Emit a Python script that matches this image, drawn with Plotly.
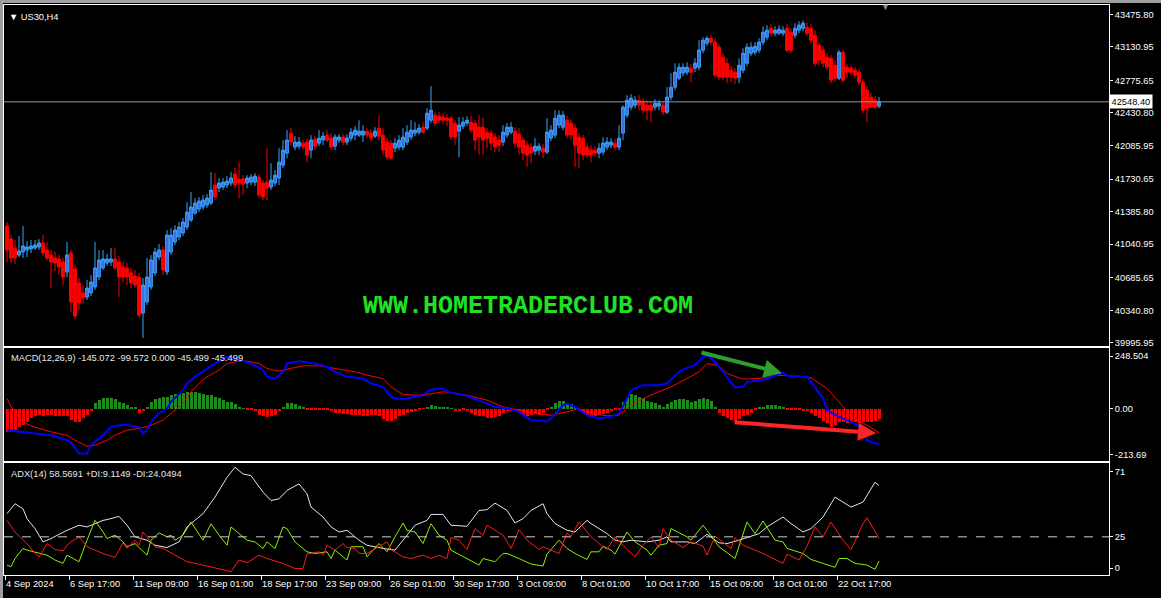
"""US30 H4 - candles, MACD and ADX in MT4 style."""

import plotly.graph_objects as go

# ---- price candles (one entry per H4 bar) ----
opens = [
    41233, 41095, 41000, 40926, 40958, 40979, 40990, 41000, 41011, 41053,
    40979, 40926, 40894, 40884, 40852, 40746, 40947, 40778, 40630, 40524,
    40482, 40524, 40588, 40693, 40789, 40841, 40852, 40884, 40852, 40799,
    40789, 40736, 40704, 40693, 40312, 40429, 40588, 40736, 40905, 40979,
    40746, 40958, 41064, 41117, 41159, 41222, 41296, 41370, 41413, 41434,
    41455, 41476, 41667, 41635, 41646, 41667, 41688, 41783, 41730, 41730,
    41688, 41698, 41698, 41751, 41688, 41698, 41646, 41688, 41741, 41878,
    42005, 42217, 42069, 42079, 42111, 42122, 42037, 42153, 42111, 42143,
    42196, 42164, 42079, 42143, 42175, 42122, 42164, 42196, 42196, 42196,
    42238, 42217, 42185, 42270, 42196, 42122, 42111, 42058, 42069, 42069,
    42122, 42175, 42217, 42227, 42280, 42270, 42354, 42407, 42397, 42386,
    42376, 42376, 42323, 42238, 42291, 42323, 42333, 42323, 42280, 42280,
    42227, 42217, 42175, 42143, 42122, 42196, 42227, 42238, 42206, 42143,
    42090, 42069, 42026, 42037, 42058, 42016, 42164, 42196, 42302, 42280,
    42354, 42323, 42270, 42175, 42164, 42069, 42037, 42037, 42005, 42016,
    42069, 42090, 42111, 42069, 42217, 42407, 42492, 42513, 42566, 42545,
    42513, 42513, 42492, 42503, 42513, 42439, 42598, 42704, 42799, 42852,
    42862, 42905, 42905, 42915, 43095, 43169, 43222, 43180, 43127, 43021,
    42957, 42883, 42862, 42809, 42883, 42957, 43063, 43074, 43095, 43180,
    43233, 43328, 43275, 43275, 43275, 43328, 43285, 43254, 43307, 43328,
    43338, 43328, 43254, 43148, 43095, 43021, 43010, 42936, 42799, 43074,
    42915, 42905, 42883, 42862, 42756, 42672, 42598, 42566, 42503,
]
highs = [
    41275, 41138, 41085, 41127, 41233, 41074, 41085, 41085, 41095, 41138,
    41064, 40979, 40958, 40926, 40894, 41064, 40979, 40820, 40683, 40609,
    40662, 40714, 41064, 40979, 40979, 40937, 41000, 41000, 40916, 40852,
    40841, 40789, 40767, 40736, 40683, 40894, 40926, 41000, 41043, 41021,
    41191, 41212, 41243, 41275, 41318, 41487, 41593, 41529, 41540, 41561,
    41571, 41804, 41794, 41741, 41741, 41762, 41804, 41847, 41910, 41772,
    41772, 41783, 41794, 41783, 41720, 42058, 41899, 41825, 42058, 42143,
    42249, 42270, 42185, 42175, 42143, 42164, 42196, 42185, 42249, 42227,
    42249, 42217, 42206, 42206, 42206, 42206, 42270, 42291, 42354, 42302,
    42270, 42259, 42280, 42407, 42270, 42164, 42143, 42164, 42196, 42270,
    42302, 42354, 42333, 42312, 42333, 42481, 42714, 42439, 42439, 42428,
    42418, 42397, 42354, 42386, 42386, 42397, 42397, 42354, 42407, 42386,
    42270, 42249, 42217, 42196, 42302, 42323, 42333, 42280, 42270, 42175,
    42132, 42111, 42164, 42111, 42101, 42376, 42302, 42460, 42460, 42450,
    42397, 42365, 42312, 42217, 42196, 42111, 42090, 42079, 42111, 42175,
    42175, 42164, 42153, 42302, 42513, 42619, 42630, 42608, 42619, 42587,
    42566, 42555, 42577, 42566, 42555, 42704, 42852, 42957, 42957, 42957,
    42968, 42947, 43010, 43201, 43233, 43243, 43254, 43222, 43158, 43063,
    43010, 42926, 42905, 43010, 43116, 43169, 43180, 43180, 43222, 43349,
    43360, 43370, 43349, 43360, 43349, 43370, 43328, 43381, 43402, 43412,
    43391, 43370, 43307, 43180, 43137, 43063, 43042, 42989, 43095, 43095,
    42947, 42936, 42915, 42894, 42788, 42714, 42640, 42608, 42598,
]
lows = [
    40852, 40841, 40831, 40905, 40894, 40905, 40947, 40979, 40979, 40916,
    40873, 40577, 40757, 40714, 40609, 40693, 40323, 40249, 40344, 40408,
    40450, 40492, 40556, 40662, 40767, 40810, 40810, 40767, 40482, 40640,
    40609, 40577, 40577, 40260, 40048, 40397, 40556, 40704, 40873, 40714,
    40714, 40926, 41032, 41085, 41127, 41191, 41275, 41349, 41381, 41402,
    41423, 41455, 41508, 41593, 41614, 41635, 41656, 41635, 41529, 41561,
    41635, 41667, 41656, 41529, 41508, 41508, 41614, 41656, 41667, 41847,
    41952, 42079, 42037, 42048, 42048, 41910, 41952, 42037, 42079, 42090,
    42122, 42037, 42037, 42111, 42090, 42090, 42132, 42143, 42175, 42122,
    42164, 42132, 42164, 42143, 41984, 41931, 41931, 42016, 42037, 42037,
    42090, 42143, 42185, 42196, 42206, 42249, 42323, 42291, 42323, 42312,
    42291, 42143, 42090, 41963, 42259, 42291, 42217, 42037, 41984, 41984,
    42058, 42037, 42016, 42016, 42079, 42164, 42206, 42058, 41984, 41931,
    41857, 41899, 41984, 41984, 41952, 41995, 42132, 42164, 42270, 42249,
    42164, 42143, 41857, 41847, 41931, 41952, 41910, 41974, 41952, 41984,
    42037, 42058, 42037, 42037, 42143, 42376, 42460, 42481, 42460, 42428,
    42354, 42333, 42460, 42460, 42407, 42418, 42566, 42672, 42778, 42820,
    42831, 42756, 42862, 42883, 43063, 43137, 43148, 42799, 42778, 42778,
    42746, 42756, 42735, 42746, 42852, 42926, 43032, 43042, 43063, 43148,
    43201, 43243, 43243, 43254, 43243, 43074, 43063, 43222, 43275, 43296,
    43243, 43169, 42926, 42936, 42915, 42883, 42746, 42756, 42778, 42756,
    42799, 42831, 42799, 42725, 42428, 42333, 42481, 42471, 42481,
]
closes = [
    40979, 40894, 40894, 40968, 41021, 41011, 41021, 41032, 41053, 40947,
    40894, 40852, 40841, 40799, 40693, 40926, 40429, 40281, 40418, 40471,
    40577, 40640, 40789, 40873, 40884, 40884, 40884, 40789, 40693, 40693,
    40693, 40630, 40609, 40291, 40609, 40693, 40873, 40958, 40979, 40767,
    41138, 41138, 41191, 41222, 41275, 41381, 41434, 41476, 41497, 41508,
    41529, 41614, 41540, 41688, 41698, 41709, 41741, 41667, 41688, 41677,
    41741, 41751, 41762, 41561, 41540, 41635, 41720, 41772, 41910, 42037,
    42143, 42122, 42122, 42122, 42069, 41984, 42143, 42079, 42164, 42185,
    42143, 42069, 42175, 42175, 42122, 42164, 42227, 42249, 42238, 42238,
    42196, 42164, 42238, 42185, 42037, 41963, 41952, 42111, 42143, 42175,
    42227, 42249, 42249, 42270, 42227, 42428, 42460, 42323, 42354, 42354,
    42354, 42175, 42175, 42302, 42333, 42354, 42249, 42143, 42175, 42143,
    42164, 42111, 42069, 42090, 42227, 42280, 42280, 42111, 42069, 42005,
    41984, 42005, 42079, 42079, 42016, 42227, 42249, 42376, 42407, 42407,
    42196, 42196, 42090, 42005, 41984, 41984, 41984, 42005, 42058, 42111,
    42122, 42122, 42069, 42164, 42492, 42566, 42587, 42566, 42513, 42460,
    42460, 42460, 42534, 42534, 42439, 42598, 42704, 42862, 42915, 42915,
    42915, 42862, 42957, 43095, 43201, 43222, 43180, 42831, 42809, 42809,
    42809, 42809, 42799, 42936, 43063, 43127, 43127, 43137, 43180, 43285,
    43307, 43275, 43307, 43317, 43307, 43095, 43095, 43328, 43360, 43381,
    43275, 43201, 42957, 42989, 42957, 42915, 42778, 42799, 43074, 42778,
    42862, 42862, 42831, 42756, 42460, 42481, 42492, 42492, 42548.4,
]

# ---- MACD(12,26,9) ----
macd_hist = [
    -96, -96, -89, -75, -68, -54, -40, -33, -26, -29, -26, -26, -29, -29, -33, -29,
    -47, -57, -54, -40, -26, -12,
    22, 36, 43, 43, 46, 39, 29, 22, 15, 8, 4,
    -19, -12,
    8, 29, 40, 46, 47, 50, 57, 60, 61, 64, 67, 68, 67, 64, 60, 57, 57, 50, 43, 36,
    29, 26, 18, 8, 1,
    -5, -8, -12, -26, -33, -36, -33, -26, -12,
    8, 22, 22, 18, 12, 4,
    -5, -5, -5, -5, -5, -5, -12, -17, -19, -22, -24, -26, -26, -26, -29, -29,
    -26, -26, -33, -43, -51, -51, -43, -33, -26, -19, -15, -10, -5, -1,
    8, 15, 12, 8, 8, 4, 1,
    -11, -12, -8, -12, -19, -26, -29, -33, -40, -40, -37, -29, -19, -12, -12, -12,
    -19, -26, -29, -26, -22, -26, -19, -8,
    4, 22, 32, 32, 22, 18, 8,
    -12, -19, -26, -29, -29, -26, -22, -19, -12, -7, -5,
    29, 50, 60, 57, 50, 43, 32, 26, 22, 15, 8, 18, 29, 36, 39, 40, 36, 29, 32, 40,
    43, 40, 32, 4,
    -19, -33, -40, -47, -51, -43, -33, -26, -19, -8,
    3, 8, 15, 15, 15, 11, 8,
    -8, -8, -7, -8, -12, -12, -19, -29, -40, -51, -61, -75, -68, -54, -57, -61,
    -57, -54, -61, -57, -54, -57, -51, -45.5,
]
macd_bars = [
    0, 3, 7, 11, 15, 16, 18, 20, 21, 24, 26, 29, 32, 33, 34, 35, 36, 38, 40, 41,
    44, 45, 47, 50, 52, 55, 57, 59, 61, 64, 65, 67, 69, 70, 73, 77, 80, 82, 85, 89,
    91, 94, 96, 98, 100, 104, 106, 109, 111, 115, 119, 122, 125, 128, 131, 135, 136, 139, 140, 142,
    145, 148, 151, 153, 155, 156, 159, 163, 165, 168, 170, 172, 174, 175, 177, 180, 182, 184, 185, 189,
    191, 194, 195, 200, 201, 204, 205, 208, 211, 214, 215, 217, 218,
]
macd_main = [
    -88.8, -95.7, -102.6, -109.6, -130.4, -140.0, -185.9, -185.9, -151.2, -109.6,
    -74.9, -65.1, -70.7, -74.9, -102.6, -88.8, -54.0, -19.3, 1.5, 29.2,
    77.8, 105.6, 133.3, 168.0, 188.9, 216.6, 209.7, 198.6, 188.9, 161.1,
    133.3, 126.4, 154.2, 188.9, 198.6, 188.9, 175.0, 154.2, 133.3, 126.4,
    105.6, 91.7, 50.1, 39.0, 43.1, 57.0, 80.6, 84.8, 67.0, 54.2,
    29.2, 8.4, 1.5, -12.4, -47.1, -51.3, -40.2, 15.4, 22.3, 8.4,
    -26.3, -40.2, -33.2, -19.3, 43.1, 77.8, 98.6, 98.6, 105.6, 154.2,
    170.8, 181.9, 216.6, 223.6, 195.8, 133.3, 88.9, 91.7, 112.5, 119.5,
    133.3, 151.4, 137.5, 133.3, 112.5, 43.1, -5.5, -33.2, -54.0, -81.8,
    -130.4, -144.3, -145.072,
]
signal_bars = [
    0, 1, 4, 6, 11, 15, 17, 20, 22, 25, 27, 30, 33, 36, 39, 41, 44, 46, 48, 50,
    53, 55, 58, 60, 63, 65, 68, 70, 74, 78, 82, 87, 90, 94, 96, 99, 102, 105, 109, 111,
    115, 120, 124, 128, 132, 136, 140, 143, 146, 150, 153, 156, 160, 163, 166, 170, 173, 175, 178, 180,
    184, 188, 192, 195, 199, 201, 205, 208, 211, 215, 218,
]
macd_signal = [
    43.1, 8.4, -54.0, -70.7, -95.7, -109.6, -130.4, -156.0, -151.2, -130.4,
    -109.6, -88.8, -81.8, -67.9, -47.1, -19.3, 22.3, 70.9, 105.6, 133.3,
    161.1, 188.9, 198.6, 198.6, 188.9, 168.0, 156.9, 165.3, 179.1, 179.1,
    168.0, 154.2, 140.3, 126.4, 91.7, 59.8, 57.0, 59.8, 70.9, 68.0,
    57.0, 36.2, 8.4, -5.5, -19.3, -26.3, -12.4, 1.5, -19.3, -29.1,
    -26.3, 15.4, 50.1, 70.9, 91.7, 126.4, 154.2, 188.9, 179.1, 147.2,
    123.6, 126.4, 137.5, 140.3, 133.3, 129.2, 84.8, 29.2, -33.2, -67.9,
    -99.572,
]

# ---- ADX(14) ----
adx_bars = [
    0, 2, 4, 5, 7, 9, 11, 14, 15, 18, 20, 22, 24, 25, 28, 30, 32, 35, 37, 40,
    43, 45, 49, 52, 55, 57, 59, 61, 64, 66, 68, 70, 73, 75, 76, 79, 81, 83, 85, 88,
    90, 94, 97, 99, 102, 105, 106, 109, 110, 111, 115, 118, 120, 122, 125, 127, 129, 131, 134, 135,
    137, 140, 142, 145, 146, 150, 152, 154, 156, 160, 163, 165, 166, 170, 172, 175, 178, 180, 183, 185,
    188, 190, 194, 196, 199, 201, 204, 207, 211, 214, 217, 218,
]
adx_main = [
    40.2, 46.7, 43.4, 36.9, 30.4, 21.7, 23.9, 28.2, 29.3, 32.6,
    31.5, 33.6, 35.8, 36.3, 38.4, 32.6, 25.0, 22.8, 19.5, 18.0,
    21.7, 31.5, 40.2, 51.0, 64.0, 70.6, 66.2, 65.1, 54.3, 48.8,
    49.9, 55.4, 59.7, 53.2, 44.5, 38.0, 31.5, 28.2, 29.3, 22.8,
    19.5, 17.4, 16.3, 22.8, 32.6, 35.8, 39.7, 39.7, 35.8, 32.6,
    31.9, 42.3, 42.8, 47.1, 42.3, 34.1, 36.9, 42.3, 46.7, 40.2,
    33.7, 29.3, 28.2, 35.8, 33.7, 27.1, 22.8, 21.7, 22.8, 21.7,
    22.8, 25.0, 21.7, 21.7, 20.6, 26.7, 21.1, 20.6, 22.8, 24.5,
    27.1, 31.5, 38.0, 33.7, 28.2, 30.4, 38.0, 51.0, 44.5, 47.8,
    60.8, 58.5691,
]
pdi_bars = [
    0, 1, 2, 4, 5, 8, 10, 12, 14, 15, 18, 20, 22, 24, 25, 27, 29, 30, 32, 35,
    36, 38, 40, 41, 42, 44, 46, 49, 51, 53, 55, 56, 58, 60, 62, 64, 65, 67, 69, 70,
    72, 75, 77, 80, 81, 82, 85, 86, 89, 90, 93, 95, 97, 99, 100, 102, 104, 106, 108, 110,
    111, 114, 118, 119, 122, 124, 125, 128, 131, 134, 135, 136, 138, 140, 142, 145, 146, 148, 149, 151,
    152, 155, 157, 160, 161, 163, 165, 166, 169, 170, 171, 174, 175, 178, 182, 185, 187, 189, 192, 194,
    195, 199, 201, 205, 207, 208, 210, 212, 215, 217, 218,
]
pdi_vals = [
    6.5, 5.4, 10.8, 17.4, 16.3, 14.1, 13.0, 9.8, 7.6, 13.0,
    8.7, 22.8, 35.8, 28.2, 23.9, 26.1, 21.7, 18.5, 20.6, 13.0,
    22.8, 27.6, 25.0, 26.1, 22.8, 26.1, 34.7, 22.8, 33.6, 26.1,
    19.5, 31.5, 27.1, 22.8, 21.7, 17.4, 21.7, 17.4, 31.5, 30.4,
    21.7, 15.2, 14.1, 15.2, 10.8, 16.3, 9.8, 18.5, 18.5, 11.9,
    20.6, 15.2, 25.0, 34.1, 29.3, 28.2, 20.6, 33.6, 26.1, 22.8,
    16.3, 11.9, 6.5, 10.8, 8.7, 14.1, 14.1, 10.8, 7.2, 5.9,
    13.7, 16.7, 22.8, 17.4, 14.1, 10.2, 15.2, 15.2, 18.9, 16.3,
    13.7, 28.2, 21.7, 16.3, 13.0, 19.5, 20.6, 30.4, 26.1, 25.0,
    22.8, 32.6, 29.3, 18.5, 10.8, 34.7, 27.1, 35.4, 22.8, 21.7,
    17.4, 14.1, 10.2, 6.5, 5.0, 10.8, 10.8, 7.6, 6.5, 3.7,
    9.1149,
]
mdi_bars = [
    0, 2, 5, 7, 8, 10, 12, 14, 15, 16, 18, 20, 24, 27, 29, 30, 32, 33, 34, 35,
    37, 39, 42, 45, 49, 53, 56, 58, 60, 63, 65, 69, 72, 74, 75, 78, 79, 80, 82, 84,
    85, 87, 88, 90, 93, 95, 96, 99, 101, 104, 106, 108, 110, 111, 113, 115, 117, 119, 120, 124,
    126, 128, 130, 133, 134, 136, 138, 140, 141, 143, 146, 149, 150, 152, 155, 157, 159, 161, 163, 164,
    166, 169, 171, 174, 175, 177, 179, 181, 182, 184, 187, 189, 194, 195, 198, 200, 202, 204, 206, 209,
    211, 214, 215, 218,
]
mdi_vals = [
    35.8, 28.2, 20.6, 14.1, 11.9, 20.6, 16.7, 15.8, 19.5, 21.7,
    25.0, 18.5, 14.1, 11.5, 21.1, 17.4, 22.8, 19.5, 28.2, 25.0,
    18.5, 17.4, 13.0, 8.7, 6.5, 4.3, 2.2, 9.8, 8.0, 13.0,
    10.8, 7.6, 4.3, 4.3, 13.7, 15.2, 13.0, 19.5, 16.3, 20.6,
    18.0, 17.4, 14.1, 14.1, 18.5, 21.7, 16.7, 11.9, 10.8, 13.0,
    10.8, 13.0, 10.8, 24.5, 22.8, 16.7, 30.4, 26.1, 32.6, 26.1,
    17.4, 29.7, 22.8, 16.7, 18.5, 16.3, 14.1, 27.6, 25.4, 34.7,
    25.0, 18.5, 16.7, 25.0, 16.7, 11.9, 19.5, 25.0, 18.0, 30.4,
    22.8, 18.0, 21.7, 18.9, 13.0, 25.4, 21.7, 17.4, 24.5, 19.5,
    16.3, 14.1, 7.6, 13.7, 9.8, 18.9, 31.5, 25.0, 34.7, 22.8,
    16.7, 33.6, 37.6, 24.0494,
]

# ---- axis labels ----
time_labels = [
    "4 Sep 2024", "6 Sep 17:00", "11 Sep 09:00", "16 Sep 01:00", "18 Sep 17:00",
    "23 Sep 09:00", "26 Sep 01:00", "30 Sep 17:00", "3 Oct 09:00", "8 Oct 01:00",
    "10 Oct 17:00", "15 Oct 09:00", "18 Oct 01:00", "22 Oct 17:00",
]
price_ticks = [43475.80, 43130.95, 42775.65, 42430.80, 42085.95, 41730.65,
               41385.80, 41040.95, 40685.65, 40340.80, 39995.95]
last_price = 42548.40

bars = list(range(len(closes)))
FONT = "Liberation Sans, Arial, sans-serif"
FS = 9.3

fig = go.Figure()

# Precio (velas)
fig.add_trace(go.Candlestick(
    x=bars, open=opens, high=highs, low=lows, close=closes,
    increasing=dict(line=dict(color="#36a4f6", width=1), fillcolor="#4169e1"),
    decreasing=dict(line=dict(color="#ff0000", width=1), fillcolor="#ff0000"),
    whiskerwidth=0,
    xaxis="x", yaxis="y",
    showlegend=False,
))

# MACD
fig.add_trace(go.Bar(
    x=bars, y=macd_hist,
    marker=dict(color=["#1e8b1e" if v > 0 else "#ff0000" for v in macd_hist],
                line=dict(width=0)),
    width=0.75,
    xaxis="x2", yaxis="y2", showlegend=False,
))
fig.add_trace(go.Scatter(
    x=signal_bars, y=macd_signal, mode="lines",
    line=dict(color="#ff0000", width=1),
    xaxis="x2", yaxis="y2", showlegend=False,
))
fig.add_trace(go.Scatter(
    x=macd_bars, y=macd_main, mode="lines",
    line=dict(color="#0000ff", width=2),
    xaxis="x2", yaxis="y2", showlegend=False,
))

# ADX
fig.add_trace(go.Scatter(
    x=adx_bars, y=adx_main, mode="lines",
    line=dict(color="#e6e6e6", width=1),
    xaxis="x3", yaxis="y3", showlegend=False,
))
fig.add_trace(go.Scatter(
    x=pdi_bars, y=pdi_vals, mode="lines",
    line=dict(color="#8cf000", width=1),
    xaxis="x3", yaxis="y3", showlegend=False,
))
fig.add_trace(go.Scatter(
    x=mdi_bars, y=mdi_vals, mode="lines",
    line=dict(color="#ff1a1a", width=1),
    xaxis="x3", yaxis="y3", showlegend=False,
))

x_range = [-0.75, 275.5]
axis_common = dict(showline=True, linecolor="white", linewidth=1, mirror=True,
                   showgrid=False, zeroline=False)
yaxis_common = dict(axis_common, side="right", ticks="outside", ticklen=3,
                    tickcolor="white", tickfont=dict(color="white", size=FS, family=FONT),
                    fixedrange=True)

fig.update_layout(
    width=1161, height=598,
    margin=dict(l=4, r=52, t=5, b=23),
    paper_bgcolor="black", plot_bgcolor="black",
    boxgap=0.0,
    bargap=0,
    font=dict(family=FONT, color="white", size=FS),
    xaxis=dict(axis_common, range=x_range, anchor="y", showticklabels=False,
               rangeslider=dict(visible=False)),
    xaxis2=dict(axis_common, range=x_range, anchor="y2", matches="x",
                showticklabels=False),
    xaxis3=dict(axis_common, range=x_range, anchor="y3", matches="x",
                tickvals=[16 * k - 0.5 for k in range(len(time_labels))],
                ticktext=time_labels, ticks="outside", ticklen=4, tickcolor="white",
                ticklabelposition="outside right", tickangle=0,
                tickfont=dict(color="white", size=FS, family=FONT)),
    yaxis=dict(yaxis_common, domain=[0.4018, 1.0], range=[39963, 43574],
               tickvals=price_ticks, ticktext=[f"{v:.2f}" for v in price_ticks]),
    yaxis2=dict(yaxis_common, domain=[0.2, 0.3977], range=[-217, 252],
                tickvals=[220, 0, -190], ticktext=["248.504", "0.00", "-213.69"]),
    yaxis3=dict(yaxis_common, domain=[0.0, 0.196], range=[0, 73.2],
                tickvals=[67.5, 25, 4.5], ticktext=["71", "25", "0"]),
    shapes=[
        # linea de precio actual
        dict(type="line", xref="x domain", yref="y", x0=0, x1=1,
             y0=last_price, y1=last_price, line=dict(color="#9099a0", width=1)),
        # nivel 25 del ADX
        dict(type="line", xref="x3 domain", yref="y3", x0=0, x1=1,
             y0=25, y1=25, line=dict(color="#d0d0d0", width=1, dash="dash")),
        # marco gris de la ventana
        dict(type="rect", xref="paper", yref="paper", x0=-0.01, x1=1.06,
             y0=1.0035, y1=1.01, fillcolor="#a0a0a0", line=dict(width=0), layer="below"),
        dict(type="rect", xref="paper", yref="paper", x0=-0.0036, x1=-0.0009,
             y0=-0.05, y1=1.01, fillcolor="#a0a0a0", line=dict(width=0), layer="below"),
    ],
    annotations=[
        dict(xref="paper", yref="paper", x=0.003, y=0.992, xanchor="left", yanchor="top",
             text="\u25bc US30,H4", showarrow=False, font=dict(size=FS, color="white")),
        dict(xref="paper", yref="y", x=1.0, y=last_price, xanchor="left", yanchor="middle",
             text="42548.40", showarrow=False, bgcolor="white",
             font=dict(size=FS, color="black"), borderpad=1.5),
        dict(xref="x", yref="paper", x=219.5, y=1.009, yanchor="top",
             text="\u25bc", showarrow=False, font=dict(size=9, color="#8a8a8a")),
        dict(xref="paper", yref="paper", x=0.0045, y=0.3935, xanchor="left", yanchor="top",
             text="MACD(12,26,9) -145.072 -99.572 0.000 -45.499 -45.499",
             showarrow=False, font=dict(size=FS, color="#e8e8e8")),
        dict(xref="paper", yref="paper", x=0.0045, y=0.19, xanchor="left", yanchor="top",
             text="ADX(14) 58.5691 +DI:9.1149 -DI:24.0494",
             showarrow=False, font=dict(size=FS, color="#e8e8e8")),
        dict(xref="x", yref="y", x=130.25, y=40376,
             text="<b>WWW.HOMETRADERCLUB.COM</b>", showarrow=False,
             font=dict(size=25, color="#22e022", family="Liberation Mono, monospace")),
        # flechas de divergencia
        dict(xref="x2", yref="y2", axref="x2", ayref="y2",
             x=193.75, y=148.6, ax=173.25, ay=236,
             showarrow=True, arrowhead=2, arrowsize=0.9, arrowwidth=4,
             arrowcolor="#2e9e2e", text=""),
        dict(xref="x2", yref="y2", axref="x2", ayref="y2",
             x=217.25, y=-101.3, ax=181.5, ay=-55.5,
             showarrow=True, arrowhead=2, arrowsize=0.9, arrowwidth=4,
             arrowcolor="#ff2424", text=""),
    ],
)

fig.write_html(
    "out.html",
    config={"displayModeBar": False},
    post_script="document.body.style.margin='0';document.body.style.overflow='hidden';",
)
